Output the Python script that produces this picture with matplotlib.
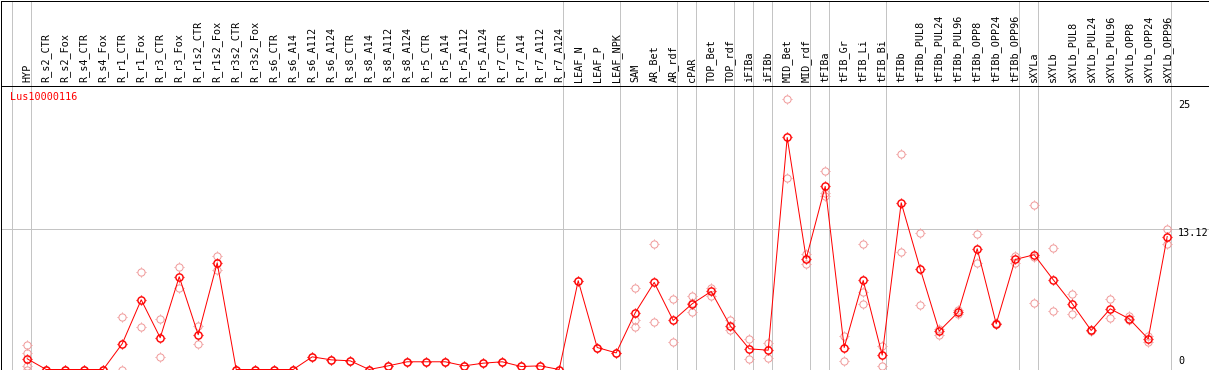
import matplotlib
matplotlib.use("Agg")
import matplotlib.pyplot as plt
from matplotlib.path import Path
import matplotlib.transforms as mtransforms
import numpy as np

# ---------------- data ----------------
labels = ["HYP",
          "R_s2_CTR", "R_s2_Fox", "R_s4_CTR", "R_s4_Fox", "R_r1_CTR", "R_r1_Fox",
          "R_r3_CTR", "R_r3_Fox", "R_r1s2_CTR", "R_r1s2_Fox", "R_r3s2_CTR", "R_r3s2_Fox",
          "R_s6_CTR", "R_s6_A14", "R_s6_A112", "R_s6_A124", "R_s8_CTR", "R_s8_A14",
          "R_s8_A112", "R_s8_A124", "R_r5_CTR", "R_r5_A14", "R_r5_A112", "R_r5_A124",
          "R_r7_CTR", "R_r7_A14", "R_r7_A112", "R_r7_A124",
          "LEAF_N", "LEAF_P", "LEAF_NPK", "SAM", "AR_Bet", "AR_rdf", "cPAR",
          "TOP_Bet", "TOP_rdf", "iFIBa", "iFIBb", "MID_Bet", "MID_rdf", "tFIBa",
          "tFIB_Gr", "tFIB_Li", "tFIB_Bi", "tFIBb", "tFIBb_PUL8", "tFIBb_PUL24",
          "tFIBb_PUL96", "tFIBb_OPP8", "tFIBb_OPP24", "tFIBb_OPP96", "sXYLa", "sXYLb",
          "sXYLb_PUL8", "sXYLb_PUL24", "sXYLb_PUL96", "sXYLb_OPP8", "sXYLb_OPP24",
          "sXYLb_OPP96"]

means = [1.0,
         0, 0, 0, 0, 2.4, 6.5,
         2.96, 8.65, 3.24, 9.95, 0, 0,
         0, 0, 1.18, 0.9, 0.81, 0,
         0.34, 0.72, 0.72, 0.72, 0.34, 0.59,
         0.72, 0.28, 0.34, 0,
         8.28, 2.05, 1.55, 5.29, 8.12, 4.57, 6.13,
         7.28, 4.07, 1.93, 1.8, 21.64, 10.35, 17.07,
         2.05, 8.3, 1.34, 15.55, 9.39, 3.58,
         5.35, 11.26, 4.26, 10.26, 10.7, 8.37,
         6.13, 3.64, 5.66, 4.73, 2.86,
         12.4]

replicates = [[2.24, 1.55, 0.31, 0.0],
              [0, 0], [0, 0], [0, 0], [0, 0], [4.88, 0.0], [9.11, 3.95],
              [4.73, 1.18], [9.58, 7.62], [4.1, 2.4], [10.54, 9.3], [0, 0], [0, 0],
              [0, 0], [0, 0], [1.18], [0.9], [0.81], [0],
              [0.34], [0.72], [0.72], [0.72], [0.34], [0.59],
              [0.72], [0.28], [0.34], [0],
              [8.28], [2.05], [1.55], [7.62, 4.63, 3.92], [11.72, 4.45], [6.59, 2.58],
              [6.81, 5.38, 6.2],
              [7.62, 6.9], [4.57, 3.64], [2.8, 1.0], [2.46, 1.09], [25.25, 17.88],
              [10.8, 9.83], [18.53, 16.48, 16.14],
              [3.1, 0.81], [11.66, 7.2, 6.13], [2.15, 0.28], [20.1, 10.98],
              [12.69, 6.06], [3.79, 3.26],
              [5.57, 5.19], [12.59, 9.95], [4.3, 4.2], [10.54, 9.92],
              [15.36, 10.48, 6.22], [11.35, 5.41],
              [7.06, 5.19], [3.7, 3.6], [6.53, 4.82], [4.95, 4.6], [3.17, 2.55],
              [13.06, 11.72]]

group_ends = [-1, 0, 28, 31, 34, 35, 37, 38, 39, 41, 42, 45, 52, 53, 60]
ytick_values = [0, 13.12, 25]
ytick_labels = ["0", "13.12", "25"]
gene_name = "Lus10000116"

# ---------------- style ----------------
W, H = 1209, 370
RED = "#ff0000"
PINK = "#f09a9a"
GRID = "#c4c4c4"
FONT = "DejaVu Sans Mono"
FS = 7.3
PX = 0.72  # one pixel in points

# four small ticks around a circle
tv, tc = [], []
t0, t1 = 1.0, 1.3
for (dx, dy) in [(1, 0), (-1, 0), (0, 1), (0, -1)]:
    tv += [(dx * t0, dy * t0), (dx * t1, dy * t1)]
    tc += [Path.MOVETO, Path.LINETO]
tick_path = Path(np.array(tv), tc)

fig = plt.figure(figsize=(W / 100, H / 100), dpi=100)
fig.patch.set_facecolor("white")

ax = fig.add_axes([0.5 / W, (H - 369.5) / H, 1208 / W, 284 / H])
hx = fig.add_axes([0.5 / W, (H - 85.5) / H, 1208 / W, 85 / H], sharex=ax)

ax.set_xlim((0.5 - 27.2) / 19, (1208.5 - 27.2) / 19)
ax.set_ylim(0, 284 / 10.724)
hx.set_ylim(0, 1)

for a in (ax, hx):
    a.set_xticks([])
    a.set_yticks([])
    for s in a.spines.values():
        s.set_color("black")
        s.set_linewidth(1.0 * PX)
        s.set_zorder(10)
hx.spines["bottom"].set_visible(False)

# group separators
for k in group_ends:
    ax.axvline(k + 0.2, color=GRID, lw=1.0 * PX, zorder=0)
    hx.axvline(k + 0.2, color=GRID, lw=1.0 * PX, zorder=0)
ax.axhline(ytick_values[1], color=GRID, lw=1.0 * PX, zorder=0)

x = np.arange(len(labels))

# replicates
rx = np.concatenate([[i] * len(r) for i, r in enumerate(replicates)])
ry = np.concatenate(replicates)
ms_c = 5.2
ax.plot(rx, ry, linestyle="none", marker="o", markersize=ms_c,
        mfc="none", mec=PINK, mew=1.0 * PX, zorder=2, clip_on=False)
ax.plot(rx, ry, linestyle="none", marker=tick_path, markersize=ms_c * 1.3,
        mfc="none", mec=PINK, mew=1.0 * PX, zorder=2, clip_on=False)

# means
ax.plot(x, means, color=RED, lw=1.0 * PX, zorder=3, clip_on=False)
ax.plot(x, means, linestyle="none", marker="o", markersize=ms_c,
        mfc="none", mec=RED, mew=1.4 * PX, zorder=4, clip_on=False)
ax.plot(x, means, linestyle="none", marker=tick_path, markersize=ms_c * 1.3,
        mfc="none", mec=RED, mew=1.2 * PX, zorder=4, clip_on=False)

# header labels
tr_h = mtransforms.blended_transform_factory(hx.transData, hx.transAxes)
for i, lab in enumerate(labels):
    hx.text(i, 3.5 / 85, lab, rotation=90, ha="center", va="bottom",
            fontsize=FS, family=FONT, color="black", transform=tr_h)

# gene name
ax.annotate(gene_name, xy=(0, 1), xycoords="axes fraction",
            xytext=(9.5, -6), textcoords="offset pixels",
            ha="left", va="top", fontsize=FS, family=FONT, color=RED)

# right value labels
lx = (1178 - 0.5) / 1208
for v, t in zip(ytick_values, ytick_labels):
    if v == 0:
        ax.annotate(t, xy=(lx, v), xycoords=("axes fraction", "data"),
                    xytext=(0, 3), textcoords="offset pixels",
                    ha="left", va="bottom", fontsize=FS, family=FONT)
    else:
        ax.annotate(t, xy=(lx, v), xycoords=("axes fraction", "data"),
                    xytext=(0, 1), textcoords="offset pixels",
                    ha="left", va="top", fontsize=FS, family=FONT)

fig.savefig("out.png", dpi=100, facecolor="white")
